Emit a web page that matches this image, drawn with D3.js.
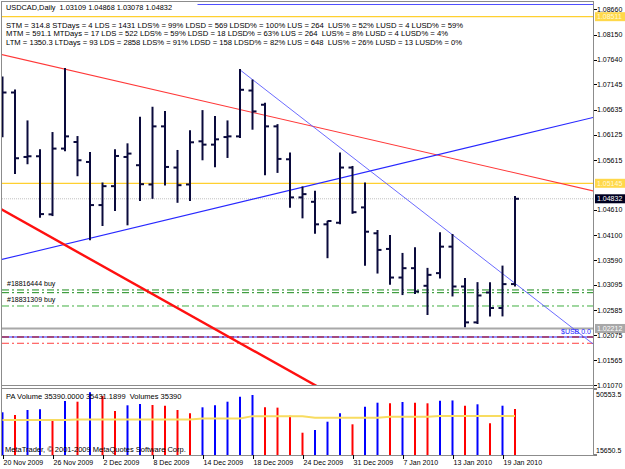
<!DOCTYPE html>
<html><head><meta charset="utf-8">
<script src="https://cdn.jsdelivr.net/npm/d3@7/dist/d3.min.js"></script>
<style>
html,body{margin:0;padding:0;background:#fff;}
svg{display:block;font-family:"Liberation Sans",Arial,sans-serif;}
text{white-space:pre;}
</style>
</head><body>
<svg id="c" width="625" height="469"></svg>
<script>
// ---------- DATA ----------
const dates = ["2009-11-20","2009-11-23","2009-11-24","2009-11-25","2009-11-26","2009-11-27","2009-11-30",
"2009-12-01","2009-12-02","2009-12-03","2009-12-04","2009-12-07","2009-12-08","2009-12-09","2009-12-10",
"2009-12-11","2009-12-14","2009-12-15","2009-12-16","2009-12-17","2009-12-18","2009-12-21","2009-12-22",
"2009-12-23","2009-12-24","2009-12-28","2009-12-29","2009-12-30","2009-12-31","2010-01-04","2010-01-05",
"2010-01-06","2010-01-07","2010-01-08","2010-01-11","2010-01-12","2010-01-13","2010-01-14","2010-01-15",
"2010-01-18","2010-01-19","2010-01-20"];
const openP  = [1.07120,1.06979,1.05677,1.05691,1.04517,1.05846,1.05979,1.05576,1.04705,1.05087,1.05677,1.05510,1.05121,1.06295,1.05463,1.05121,1.05993,1.05926,1.06079,1.06093,1.07019,1.06732,1.06295,1.05630,1.04860,1.04771,1.04316,1.04348,1.05463,1.04658,1.04135,1.03819,1.03241,1.03430,1.03074,1.03330,1.03865,1.03060,1.02335,1.02939,1.02625,1.03109];
const highP  = [1.07281,1.07019,1.06395,1.05812,1.06160,1.07456,1.06079,1.05757,1.05141,1.05812,1.05932,1.06470,1.06671,1.06583,1.05798,1.06194,1.06603,1.06482,1.06395,1.07436,1.07221,1.06752,1.06320,1.05745,1.05061,1.04972,1.04368,1.05745,1.05475,1.05141,1.04181,1.04080,1.03718,1.03833,1.03416,1.04135,1.04101,1.03209,1.03128,1.03128,1.03462,1.04868];
const lowP   = [1.06093,1.05355,1.05550,1.04469,1.04503,1.05812,1.05308,1.04014,1.04302,1.04604,1.04316,1.04805,1.04851,1.05121,1.04771,1.04805,1.05630,1.05490,1.05677,1.06080,1.06248,1.05329,1.05375,1.04670,1.04457,1.04147,1.03652,1.04336,1.04549,1.03497,1.03342,1.03114,1.02907,1.02927,1.02504,1.03241,1.02879,1.02255,1.02323,1.02476,1.02476,1.03078];
const closeP = [1.06979,1.05651,1.05691,1.04523,1.05846,1.06093,1.05610,1.04705,1.05087,1.05697,1.05745,1.05127,1.06295,1.05475,1.05107,1.05973,1.05926,1.06033,1.06093,1.07034,1.06597,1.06295,1.05637,1.04860,1.04926,1.04316,1.04383,1.05463,1.04561,1.04167,1.03799,1.03241,1.03430,1.02959,1.03295,1.03865,1.03060,1.02335,1.02879,1.02625,1.03108,1.04832];
const volumes = [38230,36800,39450,39820,34160,44210,43840,48810,46850,38920,41930,42620,42090,41720,39450,37700,40870,41930,43840,46480,47380,40870,40700,36430,27440,28870,33260,37700,31880,41190,43310,42990,43680,43310,42990,44360,44500,41720,42460,32410,41720,39980];
const paVolume = [34160,34160,34160,34160,34160,34160,34450,34450,34450,34450,34450,34450,34450,34450,34450,34450,34900,34900,34900,34900,36200,36200,36200,36200,36200,35380,35380,35380,35380,35380,35380,35900,35900,35900,35900,36270,36270,36270,36270,36270,36270,36270];

const priceTicks = [1.08660,1.08150,1.07640,1.07145,1.06635,1.06125,1.05615,1.04610,1.04100,1.03590,1.03095,1.02585,1.02075,1.01565,1.01070];
const volumeTicks = [50553.5,15650.5];
const dateLabelStep = 4;

// drawn objects: [barIndex, price] anchors
const redResistance = [[1.8,1.07636],[44.6,1.05145]];
const blueSupport   = [[0.016,1.03610],[47.24,1.06474]];
const blueDownRay   = [[19,1.07436],[44.6,1.02418]];
const redChannel    = [[0,1.04606],[23.8,1.01238]];
const topBlueLine   = [15.6,1.08757];
const yellowLevels  = [1.08511,1.05145];
const bidPrice      = 1.04832;
const orderTickets  = ["#18816444 buy","#18831309 buy"];
const orderPrices   = [1.02990,1.02666];
const orderExtra    = [1.02935];
const grayLevel     = 1.02212;
const usbLevel      = 1.02040;
const usbLabel      = "$USB 0.0";
const stopLevel     = 1.01913;

const titleText = "USDCAD,Daily  1.03109 1.04868 1.03078 1.04832";
const infoLines = [
 "STM = 314.8 STDays = 4 LDS = 1431 LDS% = 99% LDSD = 569 LDSD% = 100% LUS = 264  LUS% = 52% LUSD = 4 LUSD% = 59%",
 "MTM = 591.1 MTDays = 17 LDS = 522 LDS% = 59% LDSD = 18 LDSD% = 63% LUS = 264  LUS% = 8% LUSD = 4 LUSD% = 4%",
 "LTM = 1350.3 LTDays = 93 LDS = 2858 LDS% = 91% LDSD = 158 LDSD% = 82% LUS = 648  LUS% = 26% LUSD = 13 LUSD% = 0%"
];
const volumeTitle = "PA Volume 35390.0000 35431.1899  Volumes 35390";
const copyright = "MetaTrader, \u00A9 2001-2009 MetaQuotes Software Corp.";

// ---------- LAYOUT ----------
const W=625,H=469, L=2, R=593, T=2, mainB=385, volT=389, volB=455;
const svg=d3.select("#c");
const n=dates.length;
const x=d3.scaleLinear().domain([0,n-1]).range([2.5,2.5+12.5*(n-1)]);
const y=d3.scaleLinear().domain([1.01070,1.08660]).range([385,9.3]);
const yv=d3.scaleLinear().domain([15650.5,50553.5]).range([455,389]);
const parse=d3.timeParse("%Y-%m-%d"), fmt=d3.timeFormat("%-d %b %Y");

svg.append("rect").attr("width",W).attr("height",H).attr("fill","#fff");
const defs=svg.append("defs");
defs.append("clipPath").attr("id","mainClip").append("rect").attr("x",L).attr("y",T).attr("width",R-L).attr("height",mainB-T);

const main=svg.append("g").attr("clip-path","url(#mainClip)");

// horizontal level lines
function hline(p,color,width,dash,x0){
  main.append("line").attr("x1",x0===undefined?L:x0).attr("x2",R).attr("y1",y(p)).attr("y2",y(p))
   .attr("stroke",color).attr("stroke-width",width).attr("stroke-dasharray",dash||null);
}
hline(topBlueLine[1],"#5050ff",1.2,null,x(topBlueLine[0]));
yellowLevels.forEach(p=>hline(p,"#ffd030",1.3));
hline(bidPrice,"#c0c0c0",1,"1,1");
orderPrices.slice(0,1).concat(orderExtra).forEach(p=>hline(p,"#1a8a1a",1,"7,3,2,3"));
hline(orderPrices[1],"#40b040",1,"7,3,2,3");
hline(grayLevel,"#a8a8a8",2);
hline(usbLevel,"#2a2aff",1.2);
hline(usbLevel,"#b00000",1,"7,3,2,3");
hline(stopLevel,"#ff4040",1,"7,3,2,3");

// trend lines
function trend(a,color,width,ray){
  const x1=x(a[0][0]),y1=y(a[0][1]),x2=x(a[1][0]),y2=y(a[1][1]);
  const k=(y2-y1)/(x2-x1);
  const xs=ray?x1:L-5, xe=R+5;
  main.append("line").attr("x1",xs).attr("y1",y1+k*(xs-x1)).attr("x2",xe).attr("y2",y1+k*(xe-x1))
    .attr("stroke",color).attr("stroke-width",width);
}
trend(redResistance,"#ff3838",1.1,false);
trend(blueSupport,"#2828ff",1.1,false);
trend(blueDownRay,"#5a5aff",0.9,true);
trend(redChannel,"#ff1010",2.4,false);

// OHLC bars
const bars=main.append("g").attr("stroke","#0a0a3c").attr("stroke-width",2);
d3.range(n).forEach(i=>{
  const xi=x(i);
  bars.append("line").attr("x1",xi).attr("x2",xi).attr("y1",y(highP[i])-1).attr("y2",y(lowP[i])+1);
  bars.append("line").attr("x1",xi-4).attr("x2",xi).attr("y1",y(openP[i])).attr("y2",y(openP[i]));
  bars.append("line").attr("x1",xi).attr("x2",xi+4).attr("y1",y(closeP[i])).attr("y2",y(closeP[i]));
});

// order labels
orderTickets.forEach((t,k)=>{
  main.append("text").attr("x",7).attr("y",y(orderPrices[k])-3.5).attr("font-size",7).attr("fill","#000").text(t);
});
main.append("text").attr("x",561).attr("y",y(usbLevel)-2.5).attr("font-size",7).attr("fill","#2020ff").text(usbLabel);

// info text
svg.append("text").attr("x",6).attr("y",10).attr("font-size",7.5).attr("fill","#000")
  .attr("textLength",166).attr("lengthAdjust","spacingAndGlyphs").text(titleText);
const infoLens=[457,442,456];
infoLines.forEach((t,k)=>{
  svg.append("text").attr("x",6).attr("y",27.7+k*8.6).attr("font-size",7.5).attr("fill","#000")
   .attr("textLength",infoLens[k]).attr("lengthAdjust","spacingAndGlyphs").text(t);
});

// volume panel
const vol=svg.append("g");
d3.range(n).forEach(i=>{
  const up = i===0 || volumes[i]>volumes[i-1];
  vol.append("line").attr("x1",x(i)).attr("x2",x(i)).attr("y1",yv(volumes[i])).attr("y2",volB)
    .attr("stroke",up?"#0000ff":"#ff0000").attr("stroke-width",2);
});
vol.append("path").datum(paVolume)
  .attr("d",d3.line().x((d,i)=>x(i)).y(d=>yv(d)))
  .attr("fill","none").attr("stroke","#f8dc60").attr("stroke-width",2);
svg.append("text").attr("x",6).attr("y",398.5).attr("font-size",7.5).attr("fill","#000").text(volumeTitle);
svg.append("text").attr("x",5).attr("y",451.5).attr("font-size",7.5).attr("fill","#000").text(copyright);

// frames
const frame=svg.append("g").attr("stroke","#8c8c8c").attr("fill","none");
frame.append("line").attr("x1",1.5).attr("x2",1.5).attr("y1",1).attr("y2",volB);
frame.append("line").attr("x1",1).attr("x2",R).attr("y1",1.5).attr("y2",1.5);
frame.append("line").attr("x1",R+0.5).attr("x2",R+0.5).attr("y1",1).attr("y2",volB+0.5);
frame.append("line").attr("x1",1).attr("x2",R).attr("y1",mainB+0.5).attr("y2",mainB+0.5);
frame.append("line").attr("x1",1).attr("x2",R).attr("y1",volT-0.5).attr("y2",volT-0.5);
frame.append("line").attr("x1",1).attr("x2",R+1).attr("y1",volB+0.5).attr("y2",volB+0.5);

// price axis
const ax=svg.append("g").attr("font-size",7);
priceTicks.forEach(p=>{
  ax.append("line").attr("x1",R+1).attr("x2",R+4).attr("y1",Math.round(y(p))+0.5).attr("y2",Math.round(y(p))+0.5).attr("stroke","#000");
  ax.append("text").attr("x",597).attr("y",y(p)+2.5).attr("fill","#000").text(d3.format(".5f")(p));
});
function boxLabel(p,bg,fg){
  ax.append("rect").attr("x",595).attr("y",y(p)-4.5).attr("width",30).attr("height",9).attr("fill",bg);
  ax.append("text").attr("x",597).attr("y",y(p)+2.5).attr("fill",fg).text(d3.format(".5f")(p));
}
yellowLevels.forEach(p=>boxLabel(p,"#ffd84a","#fff8d8"));
boxLabel(bidPrice,"#000020","#ffffff");
boxLabel(grayLevel,"#a8a8a8","#ffffff");

// volume axis
volumeTicks.forEach((v,k)=>{
  ax.append("line").attr("x1",R+1).attr("x2",R+4).attr("y1",yv(v)).attr("y2",yv(v)).attr("stroke","#000");
  ax.append("text").attr("x",596).attr("y",k===0?yv(v)+7.5:yv(v)-2.5).attr("fill","#000").text(d3.format(".1f")(v));
});

// date axis
d3.range(0,n,dateLabelStep).forEach(i=>{
  ax.append("line").attr("x1",Math.round(x(i))+0.5).attr("x2",Math.round(x(i))+0.5).attr("y1",volB).attr("y2",volB+4).attr("stroke","#000");
  ax.append("text").attr("x",x(i)+1).attr("y",465).attr("fill","#000").text(fmt(parse(dates[i])));
});
</script>
</body></html>
